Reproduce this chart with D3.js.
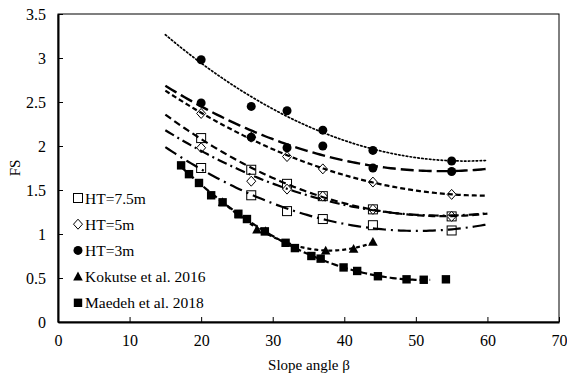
<!DOCTYPE html>
<html>
<head>
<meta charset="utf-8">
<script src="https://cdn.jsdelivr.net/npm/d3@7"></script>
<style>
  body { margin: 0; background: #fff; }
</style>
</head>
<body>
<svg id="chart" width="567" height="377"></svg>
<script>
const SVG = d3.select("#chart");
const WIDTH = 567;
const HEIGHT = 377;
const MARGIN = { top: 14, bottom: 55, left: 58, right: 8 };
const FONT = "Liberation Serif";

// slope angles used for the model runs
const ANGLES = [20, 27, 32, 37, 44, 55];
const HT75_UPPER = [2.09, 1.73, 1.57, 1.43, 1.28, 1.20];
const HT75_LOWER = [1.75, 1.44, 1.26, 1.17, 1.10, 1.04];
const HT5_UPPER = [2.37, 2.10, 1.88, 1.74, 1.59, 1.45];
const HT5_LOWER = [1.98, 1.60, 1.51, 1.43, 1.28, 1.20];
const HT3_UPPER = [2.98, 2.45, 2.40, 2.18, 1.95, 1.83];
const HT3_LOWER = [2.49, 2.10, 1.98, 2.00, 1.75, 1.71];

const KOKUTSE_X = [23.0, 25.3, 27.8, 29.0, 37.4, 41.3, 44.0];
const KOKUTSE_Y = [1.36, 1.22, 1.05, 1.03, 0.81, 0.83, 0.91];

const MAEDEH_X = [17.2, 18.3, 19.7, 21.4, 23.0, 25.2, 26.4, 28.9, 31.8, 33.1, 35.4, 36.7, 39.9, 41.8, 44.7, 48.7, 51.1, 54.2];
const MAEDEH_Y = [1.78, 1.68, 1.58, 1.44, 1.36, 1.23, 1.17, 1.03, 0.90, 0.84, 0.75, 0.72, 0.62, 0.58, 0.52, 0.485, 0.48, 0.485];

const X_TICKS = [0, 10, 20, 30, 40, 50, 60, 70];
const Y_TICKS = [0, 0.5, 1, 1.5, 2, 2.5, 3, 3.5];

const LEGEND = ["HT=7.5m", "HT=5m", "HT=3m", "Kokutse et al. 2016", "Maedeh et al. 2018"];
const LEGEND_SHAPES = ["openSquare", "diamond", "circle", "triangle", "square"];

const SCALE_X = d3.scaleLinear().domain([0, 70]).range([MARGIN.left, WIDTH - MARGIN.right]);
const SCALE_Y = d3.scaleLinear().domain([0, 3.5]).range([HEIGHT - MARGIN.bottom, MARGIN.top]);

// least squares quadratic, like the excel trendline
function polyFit(xs, ys) {
  const s = [0, 0, 0, 0, 0], t = [0, 0, 0];
  xs.forEach((x, i) => {
    for (let k = 0; k < 5; k++) s[k] += Math.pow(x, k);
    for (let k = 0; k < 3; k++) t[k] += ys[i] * Math.pow(x, k);
  });
  const m = [[s[0], s[1], s[2], t[0]], [s[1], s[2], s[3], t[1]], [s[2], s[3], s[4], t[2]]];
  for (let i = 0; i < 3; i++) {
    for (let j = i + 1; j < 3; j++) {
      const f = m[j][i] / m[i][i];
      for (let k = i; k < 4; k++) m[j][k] -= f * m[i][k];
    }
  }
  const c = [0, 0, 0];
  for (let i = 2; i >= 0; i--) {
    let v = m[i][3];
    for (let k = i + 1; k < 3; k++) v -= m[i][k] * c[k];
    c[i] = v / m[i][i];
  }
  return x => c[0] + c[1] * x + c[2] * x * x;
}

const SERIES = [
  { xs: ANGLES, ys: HT75_UPPER, shape: "openSquare", dash: "7,4", width: 2.2, from: 15, to: 60 },
  { xs: ANGLES, ys: HT75_LOWER, shape: "openSquare", dash: "13,5,2,5", width: 2.2, from: 15, to: 60 },
  { xs: ANGLES, ys: HT5_UPPER, shape: "diamond", dash: "5,3", width: 2.2, from: 15, to: 60 },
  { xs: ANGLES, ys: HT5_LOWER, shape: "diamond", dash: "10,4,2,4", width: 2.2, from: 15, to: 60 },
  { xs: ANGLES, ys: HT3_UPPER, shape: "circle", dash: "1.5,2.4", width: 1.7, from: 15, to: 60 },
  { xs: ANGLES, ys: HT3_LOWER, shape: "circle", dash: "13,5", width: 2.4, from: 15, to: 60 },
  { xs: KOKUTSE_X, ys: KOKUTSE_Y, shape: "triangle", dash: "4,3", width: 2.2, from: 23, to: 44 },
  { xs: MAEDEH_X, ys: MAEDEH_Y, shape: "square", dash: "7,3", width: 2.2, from: 17.2, to: 52 }
];

function drawMarker(g, shape, x, y) {
  if (shape === "openSquare") {
    g.append("rect").attr("x", x - 4.5).attr("y", y - 4.5).attr("width", 9).attr("height", 9)
      .attr("fill", "#fff").attr("stroke", "#000").attr("stroke-width", 1);
  } else if (shape === "diamond") {
    g.append("path").attr("d", `M${x},${y - 5}L${x + 4.5},${y}L${x},${y + 5}L${x - 4.5},${y}Z`)
      .attr("fill", "#fff").attr("stroke", "#000").attr("stroke-width", 1);
  } else if (shape === "circle") {
    g.append("circle").attr("cx", x).attr("cy", y).attr("r", 4.5).attr("fill", "#000");
  } else if (shape === "triangle") {
    g.append("path").attr("d", `M${x},${y - 5}L${x + 4.8},${y + 3.8}L${x - 4.8},${y + 3.8}Z`).attr("fill", "#000");
  } else {
    g.append("rect").attr("x", x - 4.2).attr("y", y - 4.2).attr("width", 8.4).attr("height", 8.4).attr("fill", "#000");
  }
}

// frame
SVG.append("rect")
  .attr("x", MARGIN.left).attr("y", MARGIN.top)
  .attr("width", WIDTH - MARGIN.right - MARGIN.left)
  .attr("height", HEIGHT - MARGIN.bottom - MARGIN.top)
  .attr("fill", "none").attr("stroke", "#000").attr("stroke-width", 1);

// markers, squares under diamonds under the filled ones
const MARKS = SVG.append("g");
SERIES.forEach(s => {
  s.xs.forEach((x, i) => drawMarker(MARKS, s.shape, SCALE_X(x), SCALE_Y(s.ys[i])));
});

// trendlines on top
const LINE = d3.line().x(d => SCALE_X(d[0])).y(d => SCALE_Y(d[1]));
SERIES.forEach(s => {
  const fit = polyFit(s.xs, s.ys);
  const pts = d3.range(0, 101).map(i => {
    const x = s.from + (s.to - s.from) * i / 100;
    return [x, fit(x)];
  });
  SVG.append("path")
    .attr("d", LINE(pts))
    .attr("fill", "none")
    .attr("stroke", "#000")
    .attr("stroke-width", s.width)
    .attr("stroke-dasharray", s.dash)
    .attr("stroke-linecap", s.width < 2 ? "round" : "butt");
});

// axes
const X_AXIS = SVG.append("g")
  .attr("transform", `translate(0,${HEIGHT - MARGIN.bottom})`)
  .call(d3.axisBottom(SCALE_X).tickValues(X_TICKS).tickSizeInner(-5).tickSizeOuter(0).tickPadding(13));
const Y_AXIS = SVG.append("g")
  .attr("transform", `translate(${MARGIN.left},0)`)
  .call(d3.axisLeft(SCALE_Y).tickValues(Y_TICKS).tickSizeInner(-5).tickSizeOuter(0).tickPadding(12).tickFormat(d3.format("")));

[X_AXIS, Y_AXIS].forEach(a => {
  a.attr("font-family", FONT).attr("font-size", 16);
  a.select(".domain").attr("stroke", "#000").attr("stroke-width", 2);
  a.selectAll(".tick line").attr("stroke", "#000").attr("stroke-width", 1);
  a.selectAll(".tick text").attr("fill", "#000");
});

SVG.append("text")
  .attr("x", 309).attr("y", 370)
  .attr("text-anchor", "middle")
  .attr("font-family", FONT).attr("font-size", 15)
  .text("Slope angle β");

SVG.append("text")
  .attr("transform", "translate(20,168) rotate(-90)")
  .attr("text-anchor", "middle")
  .attr("font-family", FONT).attr("font-size", 15)
  .text("FS");

// legend
const LEG = SVG.append("g");
LEGEND.forEach((label, i) => {
  const y = 198 + i * 26.2;
  drawMarker(LEG, LEGEND_SHAPES[i], 78, y);
  LEG.append("text")
    .attr("x", 85).attr("y", y + 5.5)
    .attr("font-family", FONT).attr("font-size", 15.5)
    .text(label);
});
</script>
</body>
</html>
